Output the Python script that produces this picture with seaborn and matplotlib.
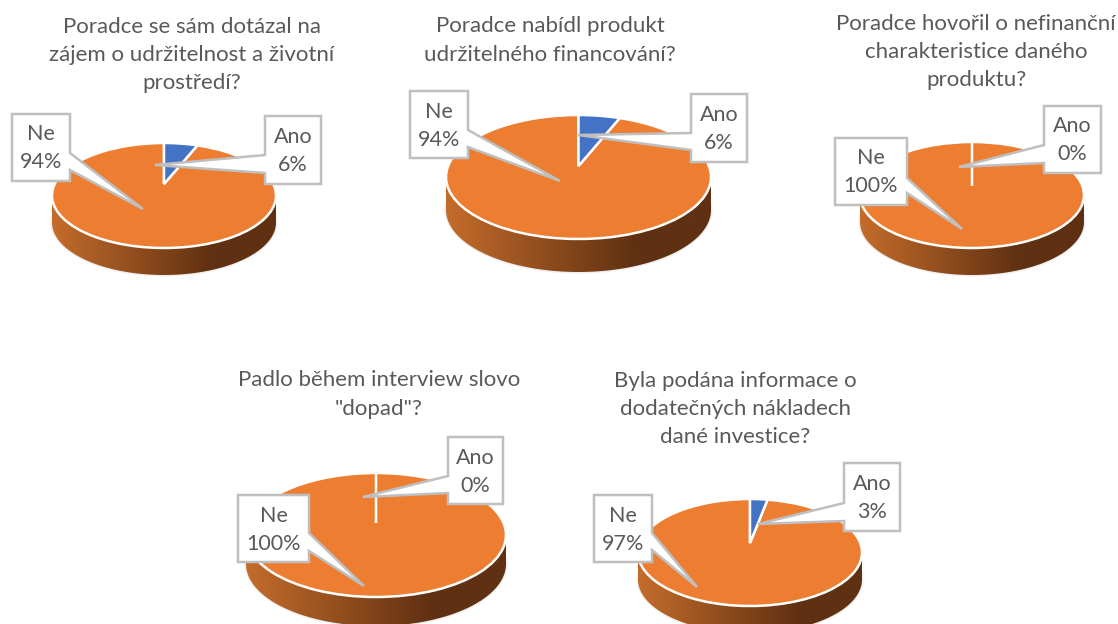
import numpy as np
import matplotlib
matplotlib.use('Agg')
import matplotlib.pyplot as plt
import seaborn as sns
from matplotlib.colors import LinearSegmentedColormap
from matplotlib.patches import Polygon, Ellipse

W, H = 1118, 624

# data
categories = ["Ano", "Ne"]
ano_values = [6, 6, 0, 0, 3]
ne_values = [94, 94, 100, 100, 97]
questions = [
    "Poradce se sám dotázal na\nzájem o udržitelnost a životní\nprostředí?",
    "Poradce nabídl produkt\nudržitelného financování?",
    "Poradce hovořil o nefinanční\ncharakteristice daného\nproduktu?",
    "Padlo během interview slovo\n\"dopad\"?",
    "Byla podána informace o\ndodatečných nákladech\ndané investice?",
]

# layout, in pixels of the picture
pies = [  # cx, cy, rx, ry, depth, apex y
    (164, 195.5, 112, 52.5, 27, 184),
    (578.5, 177, 132.5, 62, 33, 166),
    (972, 195, 112, 53, 27, 186),
    (376, 535, 130, 62, 29, 523),
    (750, 552.5, 112, 53.5, 27, 543),
]
title_pos = [(192, 55), (550, 40.5), (976, 52), (379, 394.5), (735, 409)]
# rect (x0, y0, x1, y1), pointer tip, pointer base y0, y1
ne_boxes = [
    ((12, 114, 70, 181), (143, 209), 153, 170),
    ((410, 91, 468, 158), (560, 181), 130, 147),
    ((835, 138, 907, 205), (962, 229), 178, 193),
    ((238, 495, 309, 562), (364, 586), 533, 551),
    ((594, 495, 652, 562), (697, 587), 533, 550),
]
ano_boxes = [
    ((265, 116, 321, 184), (155, 165), 155, 173),
    ((691, 94, 747, 162), (578, 135), 133, 150),
    ((1044, 106, 1101, 173), (959, 167), 145, 163),
    ((448, 437, 503, 504), (363, 497), 476, 493),
    ((844, 463, 900, 531), (758, 524), 503, 521),
]

TEXT = "#595959"
BOX_EDGE = "#BFBFBF"

sns.set_theme(style="white")
plt.rcParams['font.family'] = ['Lato', 'DejaVu Sans']
colors = sns.color_palette(["#4472C4", "#ED7D31"])
side_cmap = LinearSegmentedColormap.from_list(
    "side", [(0, "#C46C2B"), (0.72, "#5F3011"), (1, "#5F3011")])

fig = plt.figure(figsize=(W / 100, H / 100), dpi=100)
fig.patch.set_facecolor("white")

# back layer with the sides of the pies
back = fig.add_axes([0, 0, 1, 1], zorder=1)
# front layer with callouts and titles
front = fig.add_axes([0, 0, 1, 1], zorder=5)
front.patch.set_alpha(0)


def draw_side(cx, cy, rx, ry, depth):
    back.add_patch(Ellipse((cx, cy + depth), 2 * rx + 3, 2 * ry + 3, fc="#EFEFEF", ec="none", zorder=1))
    grad = np.linspace(0, 1, 256).reshape(1, -1)
    im = back.imshow(grad, cmap=side_cmap, aspect='auto', zorder=2,
                     extent=(cx - rx, cx + rx, cy + ry + depth, cy))
    t = np.linspace(0, np.pi, 120)
    outline = np.column_stack([cx + rx * np.cos(t), cy + depth + ry * np.sin(t)])
    outline = np.vstack([[(cx + rx, cy)], outline, [(cx - rx, cy)]])
    clip = Polygon(outline, closed=True, transform=back.transData)
    im.set_clip_path(clip)


def draw_pie(values, cx, cy, rx, ry, apex_y):
    ax = fig.add_axes([(cx - rx) / W, 1 - (cy + ry) / H, 2 * rx / W, 2 * ry / H], zorder=3)
    wedges, _ = ax.pie(values, colors=colors, startangle=90, counterclock=False,
                       wedgeprops=dict(edgecolor="white", linewidth=1.8, clip_on=False))
    ax.set_aspect('auto')
    ax.set_xlim(-1, 1)
    ax.set_ylim(-1, 1)
    ax.patch.set_alpha(0)
    # perspective: keeps the outline, pulls the slice centre towards the back of the pie
    c = (cy - apex_y) / ry
    for w in wedges:
        v = w.get_path().vertices
        x, y = v[:, 0].copy(), v[:, 1].copy()
        v[:, 0] = x * np.sqrt(1 - c ** 2) / (1 + c * y)
        v[:, 1] = (y + c) / (1 + c * y)
    # the Ano slice stays visible as a white line at 0%
    wedges[0].set_zorder(wedges[1].get_zorder() + 1)


def draw_callout(box, tip, b0, b1, lines):
    x0, y0, x1, y1 = box
    if tip[0] > x1:
        pts = [(x0, y0), (x1, y0), (x1, b0), tip, (x1, b1), (x1, y1), (x0, y1)]
    else:
        pts = [(x0, y0), (x1, y0), (x1, y1), (x0, y1), (x0, b1), tip, (x0, b0)]
    front.add_patch(Polygon(pts, closed=True, fc="white", ec=BOX_EDGE, lw=1.8, joinstyle="miter"))
    front.text((x0 + x1) / 2, (y0 + y1) / 2 + 1, lines, ha="center", va="center",
               fontsize=15.5, color=TEXT, linespacing=1.5)


for i, (cx, cy, rx, ry, depth, apex_y) in enumerate(pies):
    draw_side(cx, cy, rx, ry, depth)
    draw_pie([ano_values[i], ne_values[i]], cx, cy, rx, ry, apex_y)

    box, tip, b0, b1 = ne_boxes[i]
    draw_callout(box, tip, b0, b1, f"{categories[1]}\n{ne_values[i]}%")
    box, tip, b0, b1 = ano_boxes[i]
    draw_callout(box, tip, b0, b1, f"{categories[0]}\n{ano_values[i]}%")

    tx, ty = title_pos[i]
    front.text(tx, ty, questions[i], ha="center", va="center", fontsize=16,
               color=TEXT, linespacing=1.53)

for ax in (back, front):
    ax.set_xlim(0, W)
    ax.set_ylim(H, 0)
    ax.axis('off')

fig.savefig("out.png", dpi=100)
